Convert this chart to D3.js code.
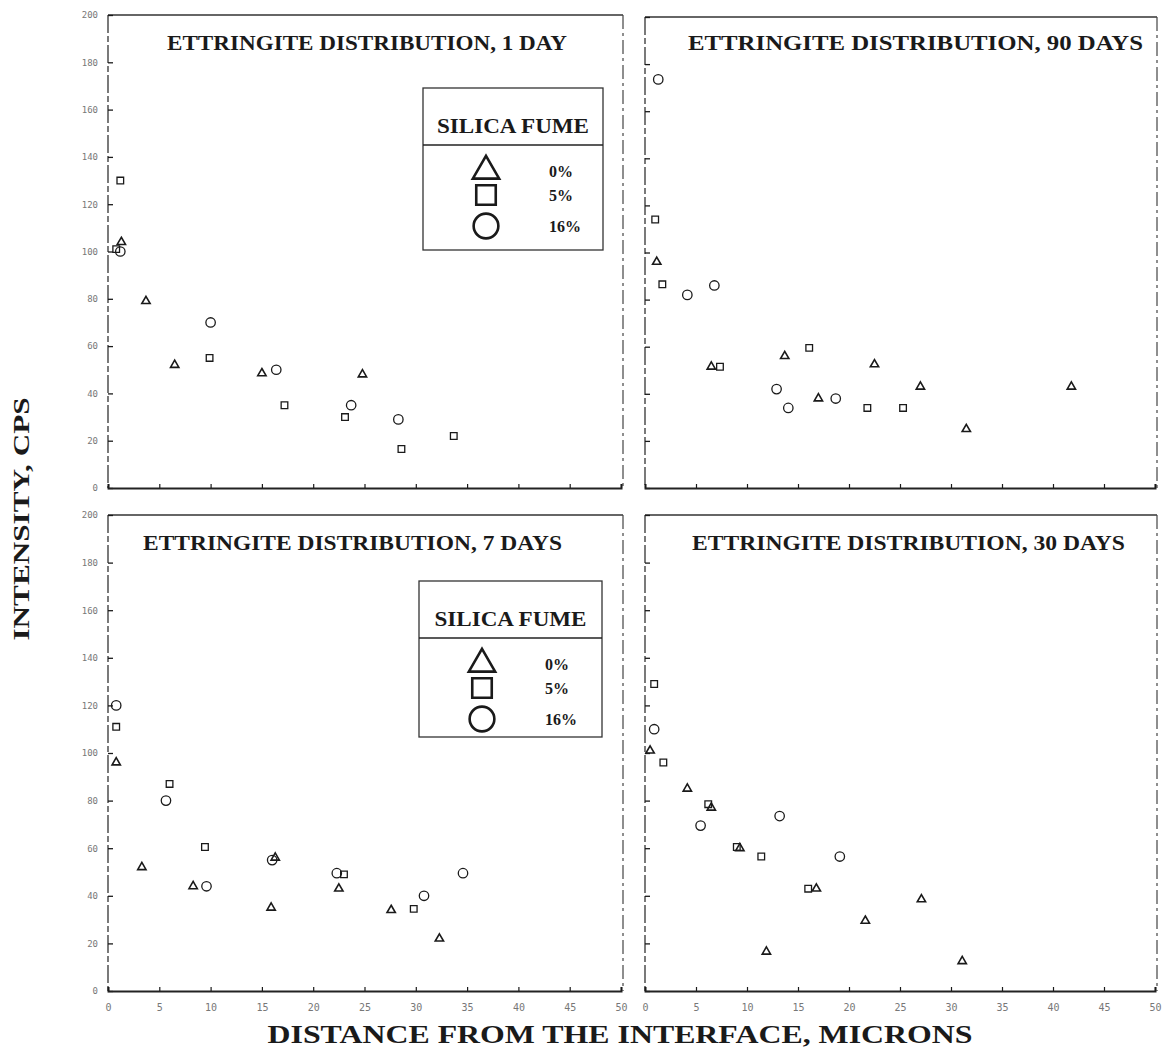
<!DOCTYPE html>
<html><head><meta charset="utf-8">
<script src="https://cdn.jsdelivr.net/npm/d3@7"></script>
<style>
html,body{margin:0;padding:0;background:#fff;}
svg{display:block;}
.tick text{font-family:"DejaVu Sans Mono",monospace;fill:#777;}
</style></head>
<body>
<svg id="chart" width="1167" height="1054"></svg>
<script>
// ---- data ----
const xTicks = [0,5,10,15,20,25,30,35,40,45,50];
const yTicks = [0,20,40,60,80,100,120,140,160,180,200];
const panelTitles = ["ETTRINGITE DISTRIBUTION, 1 DAY","ETTRINGITE DISTRIBUTION, 90 DAYS","ETTRINGITE DISTRIBUTION, 7 DAYS","ETTRINGITE DISTRIBUTION, 30 DAYS"];
const legendTitle = "SILICA FUME";
const seriesNames = ["0%","5%","16%"];
const xTitle = "DISTANCE FROM THE INTERFACE, MICRONS";
const yTitle = "INTENSITY, CPS";

// 1 day
const day1_sf0  = [[1.3,104],[3.7,79],[6.5,52],[15.0,48.5],[24.8,48]];
const day1_sf5  = [[1.2,130],[0.8,101],[9.9,55],[17.2,35],[23.1,30],[28.6,16.5],[33.7,22]];
const day1_sf16 = [[1.2,100],[10.0,70],[16.4,50],[23.7,35],[28.3,29]];
// 90 days
const day90_sf0  = [[1.15,96],[6.5,51.5],[13.7,56],[17.0,38],[22.5,52.5],[27.0,43],[31.5,25],[41.8,43]];
const day90_sf5  = [[1.0,114],[1.7,86.5],[7.35,51.5],[16.1,59.5],[21.8,34],[25.3,34]];
const day90_sf16 = [[1.3,173.5],[4.15,82],[6.8,86],[12.9,42],[14.05,34],[18.7,38]];
// 7 days
const day7_sf0  = [[0.8,96],[3.3,52],[8.3,44],[16.3,56],[15.9,35],[22.5,43],[27.6,34],[32.3,22]];
const day7_sf5  = [[0.8,111],[6.0,87],[9.45,60.5],[23.0,49],[29.8,34.5]];
const day7_sf16 = [[0.8,120],[5.65,80],[9.6,44],[16.0,55],[22.3,49.5],[30.8,40],[34.6,49.5]];
// 30 days
const day30_sf0  = [[0.5,101],[4.15,85],[6.5,77],[9.3,60],[11.9,16.5],[16.8,43],[21.6,29.5],[27.1,38.5],[31.1,12.5]];
const day30_sf5  = [[0.9,129],[1.8,96],[6.2,78.5],[9.0,60.5],[11.4,56.5],[16.0,43]];
const day30_sf16 = [[0.9,110],[5.45,69.5],[13.2,73.5],[19.1,56.5]];

// ---- layout ----
const svg = d3.select("#chart");
const ink = "#1a1a1a";
const panels = [
  {title: panelTitles[0], series:[day1_sf0,day1_sf5,day1_sf16], x:[108,621], y:[488,15], titleX:167, titleW:400, titleY:50, legend:{x:423,y:88,w:180,h:162}, yLabels:true, xLabels:false},
  {title: panelTitles[1], series:[day90_sf0,day90_sf5,day90_sf16], x:[645,1155], y:[488,17], titleX:688, titleW:455, titleY:50, legend:null, yLabels:false, xLabels:false},
  {title: panelTitles[2], series:[day7_sf0,day7_sf5,day7_sf16], x:[108,621], y:[991,515], titleX:143, titleW:419, titleY:550, legend:{x:419,y:581,w:183,h:156}, yLabels:true, xLabels:true},
  {title: panelTitles[3], series:[day30_sf0,day30_sf5,day30_sf16], x:[645,1155], y:[991,515], titleX:692, titleW:433, titleY:550, legend:null, yLabels:false, xLabels:true}
];
const symTypes = [d3.symbolTriangle, d3.symbolSquare, d3.symbolCircle];
const symSizes = [30, 44, 70];
const legSizes = [300, 380, 480];

panels.forEach(p => {
  const xs = d3.scaleLinear().domain([0,50]).range(p.x);
  const ys = d3.scaleLinear().domain([0,200]).range(p.y);
  const g = svg.append("g");
  // frame
  const x0 = xs(0), x1 = xs(50), yb = ys(0), yt = ys(200);
  g.append("line").attr("x1",x0).attr("x2",x1+2).attr("y1",yt).attr("y2",yt).attr("stroke","#333").attr("stroke-width",1.6);
  g.append("line").attr("x1",x1+2).attr("x2",x1+2).attr("y1",yt).attr("y2",yb).attr("stroke","#444").attr("stroke-width",1.2).attr("stroke-dasharray","14,4,3,4");
  g.append("line").attr("x1",x0).attr("x2",x0).attr("y1",yt).attr("y2",yb).attr("stroke","#333").attr("stroke-width",1.3).attr("stroke-dasharray","18,3,6,3");
  // axes
  const ay = d3.axisLeft(ys).tickValues(yTicks).tickSize(-5).tickPadding(10)
    .tickFormat(p.yLabels ? d3.format("d") : () => "");
  const gy = g.append("g").attr("transform",`translate(${x0},0)`).call(ay);
  gy.select(".domain").remove();
  gy.selectAll(".tick line").attr("stroke",ink).attr("stroke-width",1.3);
  gy.selectAll(".tick text").attr("font-size",9);
  const ax = d3.axisBottom(xs).tickValues(xTicks).tickSize(-4).tickPadding(13)
    .tickFormat(p.xLabels ? d3.format("d") : () => "");
  const gx = g.append("g").attr("transform",`translate(0,${yb})`).call(ax);
  gx.select(".domain").attr("stroke","#222").attr("stroke-width",2);
  gx.selectAll(".tick line").attr("stroke",ink).attr("stroke-width",1.2);
  gx.selectAll(".tick text").attr("font-size",10);
  // title
  g.append("text").attr("x",p.titleX).attr("y",p.titleY).text(p.title)
    .attr("font-family","'Liberation Serif','Times New Roman',serif").attr("font-weight","bold")
    .attr("font-size",21).attr("fill",ink)
    .attr("textLength",p.titleW).attr("lengthAdjust","spacingAndGlyphs");
  // points
  p.series.forEach((s,i) => {
    g.selectAll(null).data(s).enter().append("path")
      .attr("d", d3.symbol().type(symTypes[i]).size(symSizes[i]))
      .attr("transform", d => `translate(${xs(d[0])},${ys(d[1])})`)
      .attr("fill","none").attr("stroke",ink).attr("stroke-width",i===0?1.6:1.3);
  });
  // legend
  if (p.legend) {
    const L = p.legend;
    const lg = g.append("g").attr("transform",`translate(${L.x},${L.y})`);
    lg.append("rect").attr("width",L.w).attr("height",L.h).attr("fill","#fff").attr("stroke","#333").attr("stroke-width",1.3);
    lg.append("line").attr("x1",0).attr("x2",L.w).attr("y1",57).attr("y2",57).attr("stroke","#222").attr("stroke-width",1.6);
    lg.append("text").attr("x",L.w/2).attr("y",45).attr("text-anchor","middle").text(legendTitle)
      .attr("font-family","'Liberation Serif','Times New Roman',serif").attr("font-weight","bold")
      .attr("font-size",20).attr("fill",ink).attr("textLength",152).attr("lengthAdjust","spacingAndGlyphs");
    const rowY = [83, 107, 138];
    seriesNames.forEach((nm,i) => {
      lg.append("path").attr("d", d3.symbol().type(symTypes[i]).size(legSizes[i]))
        .attr("transform",`translate(${63},${rowY[i]})`)
        .attr("fill","none").attr("stroke",ink).attr("stroke-width",2.6);
      lg.append("text").attr("x",126).attr("y",rowY[i]+6).text(nm)
        .attr("font-family","'Liberation Serif','Times New Roman',serif").attr("font-weight","bold")
        .attr("font-size",16).attr("fill",ink);
    });
  }
});

// axis titles
svg.append("text").attr("x",620).attr("y",1043).attr("text-anchor","middle").text(xTitle)
  .attr("font-family","'Liberation Serif','Times New Roman',serif").attr("font-weight","bold")
  .attr("font-size",25).attr("fill",ink).attr("textLength",705).attr("lengthAdjust","spacingAndGlyphs");
svg.append("text").attr("transform","translate(29,519) rotate(-90)").attr("text-anchor","middle").text(yTitle)
  .attr("font-family","'Liberation Serif','Times New Roman',serif").attr("font-weight","bold")
  .attr("font-size",24).attr("fill",ink).attr("textLength",243).attr("lengthAdjust","spacingAndGlyphs");
</script>
</body></html>
